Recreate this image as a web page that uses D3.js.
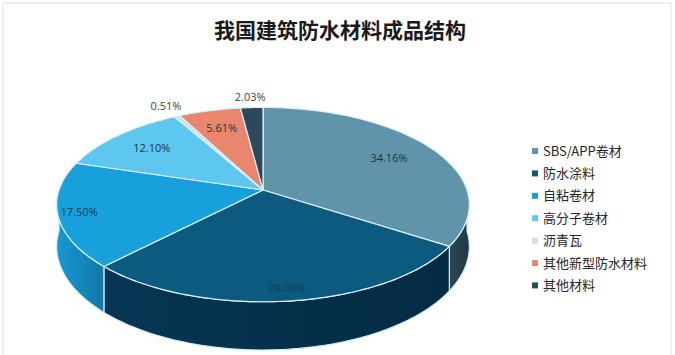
<!DOCTYPE html>
<html>
<head>
<meta charset="utf-8">
<script src="https://cdn.jsdelivr.net/npm/d3@7/dist/d3.min.js"></script>
<style>
  body { margin: 0; background: #fff; }
  svg { display: block; font-family: "Open Sans", "Noto Sans CJK SC", sans-serif; }
</style>
</head>
<body>
<svg id="chart" width="675" height="355"></svg>
<script>
// data
var categories = ["SBS/APP卷材", "防水涂料", "自粘卷材", "高分子卷材", "沥青瓦", "其他新型防水材料", "其他材料"];
var shares = [34.16, 28.09, 17.50, 12.10, 0.51, 5.61, 2.03];
var labels = ["34.16%", "28.09%", "17.50%", "12.10%", "0.51%", "5.61%", "2.03%"];

// look
var topColors  = ["#6094ab", "#0c5a7f", "#17a0dc", "#5ec7ef", "#d6e0da", "#e9866d", "#2d4858"];
var sideColors = ["#263e4a", "#05304a", "#1486ba", "#48a9d0", "#b8c4be", "#c06a55", "#1d3340"];
var labelR     = [0.74, 0.90, 0.90, 0.75, 1.15, 0.75, 1.15];

var cx = 263, cy = 190, rx = 204, ry = 95, k = 0.15, depth = 41;

var svg = d3.select("#chart");

svg.append("rect")
    .attr("x", 3).attr("y", 3)
    .attr("width", 668).attr("height", 360)
    .attr("fill", "none")
    .attr("stroke", "#e2e2e2");

svg.append("text")
    .attr("x", 340).attr("y", 38)
    .attr("text-anchor", "middle")
    .style("font-family", "'Noto Sans CJK SC', sans-serif")
    .style("font-weight", "bold")
    .style("font-size", "21px")
    .attr("fill", "#1a1a1a")
    .text("我国建筑防水材料成品结构");

// angle -> screen point, angle clockwise from 12 o'clock, r fraction, h = drop
function proj(a, r, h) {
    var u = r * Math.sin(a), v = -r * Math.cos(a);
    var w = 1 - k * v;
    return [cx + rx * u / w, cy + (ry * v + (h || 0)) / w];
}

function arcPts(a0, a1, r, h) {
    var n = Math.max(2, Math.ceil(Math.abs(a1 - a0) / 0.02));
    var s = d3.scaleLinear().domain([0, n]).range([a0, a1]);
    return d3.range(n + 1).map(function (i) { return proj(s(i), r, h); });
}

var pie = d3.pie().sort(null).value(function (d) { return d; });
var arcs = pie(shares);

var line = d3.line();

// sides: visible part is the front half, angles PI/2 .. 3PI/2
var sides = svg.append("g");
arcs.forEach(function (d, i) {
    var a0 = Math.max(d.startAngle, Math.PI / 2);
    var a1 = Math.min(d.endAngle, 3 * Math.PI / 2);
    if (a1 <= a0) return;
    var topEdge = arcPts(a0, a1, 1, 0);
    var botEdge = arcPts(a1, a0, 1, depth);
    var gid = "sg" + i;
    var grad = svg.append("defs").append("linearGradient")
        .attr("id", gid).attr("x1", "0").attr("x2", "1");
    grad.append("stop").attr("offset", "0").attr("stop-color", d3.color(sideColors[i]).brighter(0.35));
    grad.append("stop").attr("offset", "1").attr("stop-color", d3.color(sideColors[i]).darker(0.3));
    sides.append("path")
        .attr("d", line(topEdge.concat(botEdge)) + "Z")
        .attr("fill", "url(#" + gid + ")")
        .attr("stroke", "#cdeefc")
        .attr("stroke-width", 1.2)
        .attr("stroke-linejoin", "round");
});

// top faces
var tops = svg.append("g");
arcs.forEach(function (d, i) {
    var pts = [proj(0, 0)].concat(arcPts(d.startAngle, d.endAngle, 1, 0));
    tops.append("path")
        .attr("d", line(pts) + "Z")
        .attr("fill", topColors[i])
        .attr("stroke", "#d9f3fd")
        .attr("stroke-width", 1.2)
        .attr("stroke-linejoin", "round");
});

// labels
arcs.forEach(function (d, i) {
    var mid = (d.startAngle + d.endAngle) / 2;
    var p = proj(mid, labelR[i], 0);
    svg.append("text")
        .attr("x", p[0]).attr("y", p[1])
        .attr("text-anchor", "middle")
        .attr("dy", "0.35em")
        .style("font-size", "11px")
        .attr("fill", labelR[i] > 1 ? "#404040" : (i === 1 ? "#163a52" : "#1c3548"))
        .text(labels[i]);
});

// legend
var legend = svg.append("g").attr("transform", "translate(535,151)");
var ly = d3.scaleBand().domain(categories).range([0, 22.4 * categories.length]);
categories.forEach(function (c, i) {
    var g = legend.append("g").attr("transform", "translate(0," + (ly(c)) + ")");
    g.append("rect")
        .attr("x", -3).attr("y", -3)
        .attr("width", 6).attr("height", 6)
        .attr("fill", topColors[i]);
    g.append("text")
        .attr("x", 8).attr("dy", "0.35em")
        .style("font-size", "13px")
        .style("font-family", "'Noto Sans CJK SC', 'Open Sans', sans-serif")
        .attr("fill", "#262626")
        .text(c);
});
</script>
</body>
</html>
